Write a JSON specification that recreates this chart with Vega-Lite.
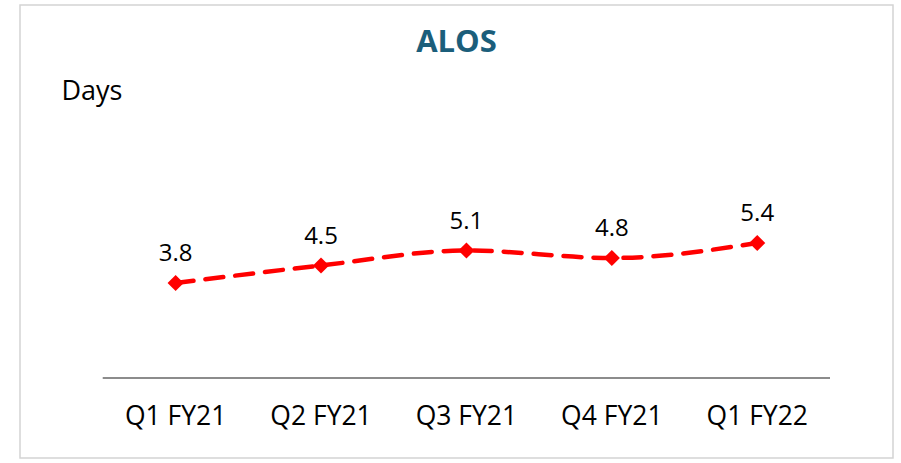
{
  "$schema": "https://vega.github.io/schema/vega-lite/v6.json",
  "autosize": "none",
  "width": 873,
  "height": 453,
  "padding": {"left": 20, "top": 5, "right": 8, "bottom": 5},
  "background": "white",
  "config": {
    "view": {"stroke": "#d4d4d4", "strokeWidth": 1.5},
    "font": "Open Sans"
  },
  "title": {
    "text": "ALOS",
    "font": "Open Sans",
    "fontSize": 31,
    "fontWeight": "bold",
    "color": "#1B5E7B",
    "anchor": "middle",
    "offset": -54
  },
  "data": {
    "values": [
      {"quarter": "Q1 FY21", "alos": 3.8},
      {"quarter": "Q2 FY21", "alos": 4.5},
      {"quarter": "Q3 FY21", "alos": 5.1},
      {"quarter": "Q4 FY21", "alos": 4.8},
      {"quarter": "Q1 FY22", "alos": 5.4}
    ]
  },
  "encoding": {
    "x": {
      "field": "quarter",
      "type": "nominal",
      "sort": null,
      "scale": {"domain": ["Q1 FY21", "Q2 FY21", "Q3 FY21", "Q4 FY21", "Q1 FY22"], "paddingInner": 0, "paddingOuter": 0.502, "align": 0.568},
      "axis": {
        "title": null,
        "domain": false,
        "ticks": false,
        "labelAngle": 0,
        "labelFontSize": 26.5,
        "labelColor": "#000000",
        "labelFont": "Open Sans",
        "labelPadding": 0,
        "orient": "bottom",
        "labelBaseline": "middle",
        "offset": -42
      }
    },
    "y": {
      "field": "alos",
      "type": "quantitative",
      "scale": {"domain": [-3.2, 14.92], "nice": false, "zero": false},
      "axis": {
        "title": "Days",
        "titleAngle": 0,
        "titleX": 41,
        "titleY": 94,
        "titleAlign": "left",
        "titleBaseline": "alphabetic",
        "titleFontSize": 27,
        "titleFontWeight": "normal",
        "titleColor": "#000000",
        "titleFont": "Open Sans",
        "labels": false,
        "ticks": false,
        "domain": false,
        "grid": false
      }
    }
  },
  "layer": [
    {
      "mark": {"type": "rule", "color": "#8c8c8c", "strokeWidth": 1.5, "x2Offset": 72.7},
      "encoding": {
        "x": {"datum": "Q1 FY21", "bandPosition": 0},
        "x2": {"datum": "Q1 FY22"},
        "y": {"datum": 0}
      }
    },
    {
      "mark": {
        "type": "line",
        "color": "#FF0000",
        "strokeWidth": 4.5,
        "strokeDash": [18, 12],
        "strokeCap": "round",
        "interpolate": "monotone"
      }
    },
    {
      "mark": {"type": "point", "shape": "diamond", "filled": true, "color": "#FF0000", "size": 260, "opacity": 1}
    },
    {
      "mark": {"type": "text", "fontSize": 24, "color": "#000000", "dy": -29, "font": "Open Sans"},
      "encoding": {"text": {"field": "alos", "type": "quantitative", "format": ".1f"}}
    }
  ]
}
